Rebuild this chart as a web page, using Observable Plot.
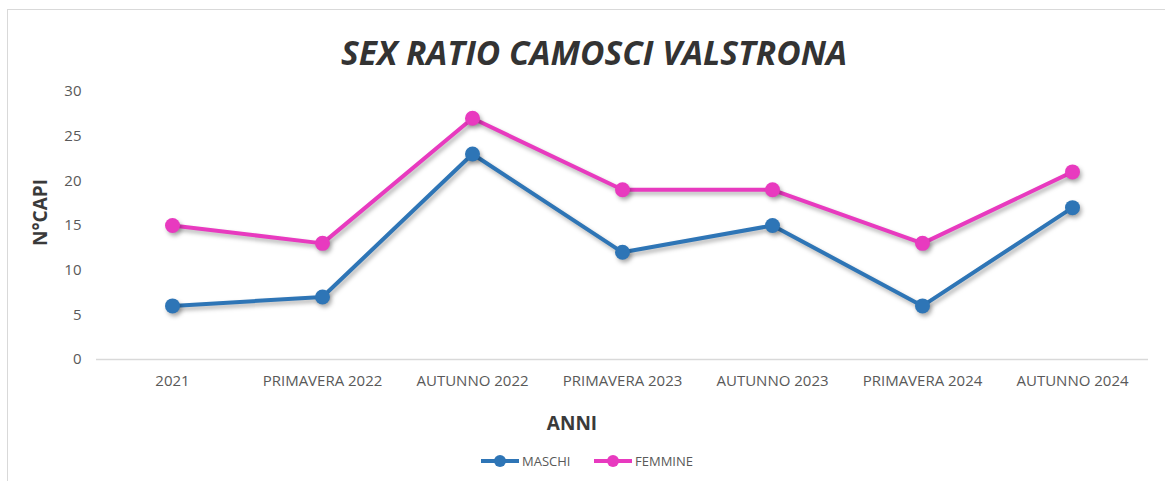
<!DOCTYPE html>
<html>
<head>
<meta charset="utf-8">
<script src="https://cdn.jsdelivr.net/npm/d3@7"></script>
<script src="https://cdn.jsdelivr.net/npm/@observablehq/plot@0.6"></script>
<style>
  body { margin: 0; background: #fff; font-family: "Open Sans", sans-serif; }
  #wrap { position: relative; width: 1165px; height: 481px; overflow: hidden; background: #fff; }
  #frame { position: absolute; left: 7px; top: 9px; width: 1220px; height: 540px; border: 1.5px solid #d9d9d9; box-sizing: border-box; }
  #title { position: absolute; top: 32px; left: 0; width: 1188px; text-align: center; font-size: 33.5px; font-weight: 700; font-style: italic; color: #333; line-height: 1.2; white-space: nowrap; }
  #chart { position: absolute; top: 70px; left: 0; }
  #xtitle { position: absolute; top: 412px; left: 472px; width: 200px; text-align: center; font-size: 19px; font-weight: 700; color: #3a3a3a; line-height: 1.2; }
  #legend { position: absolute; top: 451px; left: 0; width: 1165px; height: 20px; }
  .item { position: absolute; top: 0; display: flex; align-items: center; font-size: 13px; color: #595959; height: 20px; }
  .item svg { margin-right: 3px; }
</style>
</head>
<body>
<div id="wrap">
  <div id="frame"></div>
  <div id="title"></div>
  <div id="chart"></div>
  <div id="xtitle"></div>
  <div id="legend"></div>
</div>
<script>
const titleText = "SEX RATIO CAMOSCI VALSTRONA";
const xTitle = "ANNI";
const yTitle = "N°CAPI";
const categories = ["2021", "PRIMAVERA 2022", "AUTUNNO 2022", "PRIMAVERA 2023", "AUTUNNO 2023", "PRIMAVERA 2024", "AUTUNNO 2024"];
const seriesNames = ["MASCHI", "FEMMINE"];
const seriesColors = ["#2E75B6", "#E83ABF"];
const maschi = [6, 7, 23, 12, 15, 6, 17];
const femmine = [15, 13, 27, 19, 19, 13, 21];
const yTicks = [0, 5, 10, 15, 20, 25, 30];

const data = [];
categories.forEach((c, i) => data.push({cat: c, value: maschi[i], series: "MASCHI"}));
categories.forEach((c, i) => data.push({cat: c, value: femmine[i], series: "FEMMINE"}));

document.getElementById("title").textContent = titleText;
document.getElementById("xtitle").textContent = xTitle;

const plot = Plot.plot({
  width: 1165,
  height: 370,
  marginLeft: 96,
  marginRight: 17,
  marginTop: 21,
  marginBottom: 81,
  style: { fontFamily: "'Open Sans', sans-serif", color: "#595959", background: "transparent", overflow: "visible" },
  x: { type: "point", domain: categories, padding: 0.5, label: null },
  y: { domain: [0, 30], label: null },
  color: { domain: seriesNames, range: seriesColors },
  marks: [
    Plot.ruleY([0], { stroke: "#d9d9d9", strokeWidth: 1.3 }),
    Plot.axisY({ ticks: yTicks, tickSize: 0, tickPadding: 15, fontSize: 15, fill: "#595959",
                 label: yTitle, labelAnchor: "center", labelOffset: 63, labelArrow: "none" }),
    Plot.axisX({ tickSize: 0, tickPadding: 16, fontSize: 15, fill: "#595959", label: null }),
    Plot.line(data, { x: "cat", y: "value", z: "series", stroke: "series", strokeWidth: 4, curve: "linear" }),
    Plot.dot(data, { x: "cat", y: "value", fill: "series", r: 7.5 })
  ]
});

plot.querySelectorAll('g[aria-label="line"], g[aria-label="dot"]').forEach(g => {
  g.style.filter = "drop-shadow(2px 3px 2px rgba(0,0,0,0.3))";
});
const yl = plot.querySelector('g[aria-label="y-axis label"]');
if (yl) {
  yl.setAttribute("font-size", "19");
  yl.setAttribute("font-weight", "700");
  yl.setAttribute("fill", "#3a3a3a");
  const tr = yl.getAttribute("transform") || "";
  yl.setAttribute("transform", (tr + " translate(0,-13)").trim());
}
document.getElementById("chart").appendChild(plot);

// legend
const legend = document.getElementById("legend");
const lefts = [481, 594];
seriesNames.forEach((name, i) => {
  const item = document.createElement("div");
  item.className = "item";
  item.style.left = lefts[i] + "px";
  const sw = d3.create("svg").attr("width", 38).attr("height", 14);
  sw.append("line").attr("x1", 0).attr("x2", 38).attr("y1", 7).attr("y2", 7)
    .attr("stroke", seriesColors[i]).attr("stroke-width", 4);
  sw.append("circle").attr("cx", 19).attr("cy", 7).attr("r", 6).attr("fill", seriesColors[i]);
  item.appendChild(sw.node());
  const t = document.createElement("span");
  t.textContent = name;
  item.appendChild(t);
  legend.appendChild(item);
});
</script>
</body>
</html>
